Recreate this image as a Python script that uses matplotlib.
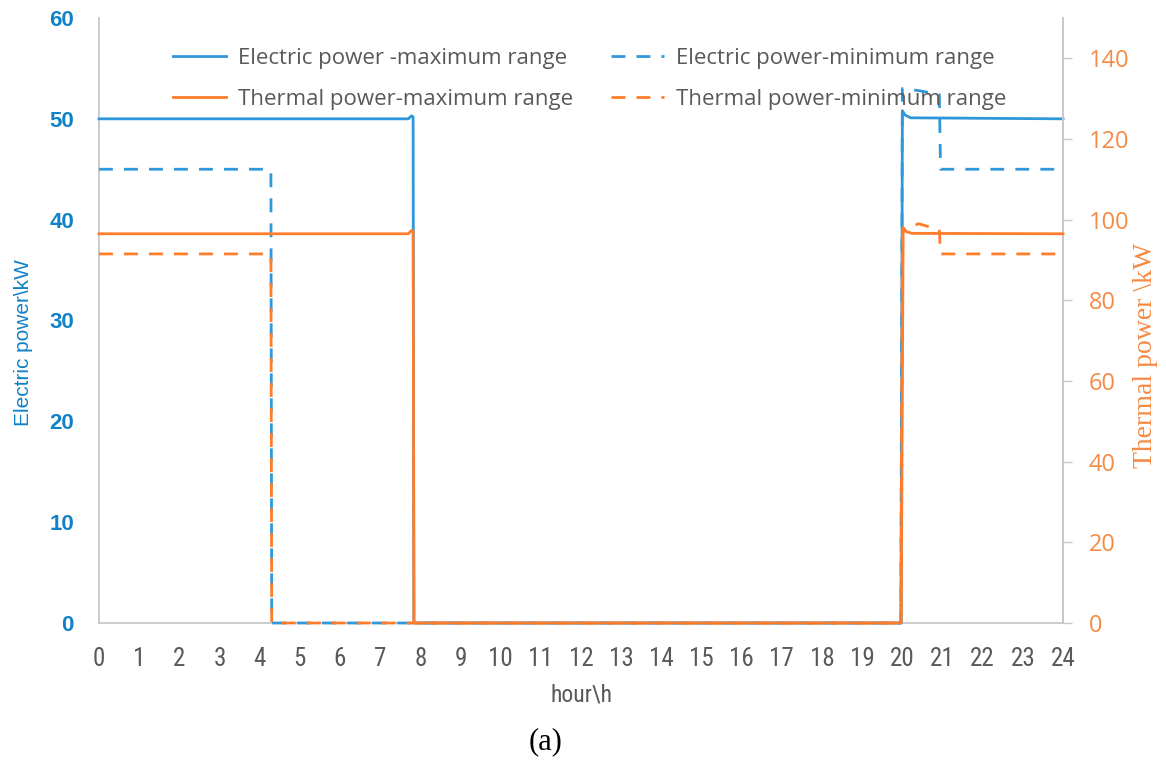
import matplotlib
matplotlib.use("Agg")
import matplotlib.pyplot as plt
from matplotlib import font_manager

# ---- data (hour, value) breakpoints ----
elec_max_t = [0, 7.70, 7.78, 7.82, 7.84, 19.97, 20.00, 20.06, 20.20, 24]
elec_max_v = [50, 50, 50.3, 50.2, 0, 0, 50.8, 50.4, 50.1, 50]

elec_min_t = [0, 4.24, 4.28, 4.30, 19.96, 20.00, 20.40, 20.92, 20.95, 24]
elec_min_v = [45, 45, 44.8, 0, 0, 53.0, 52.8, 52.4, 45, 45]

therm_max_t = [0, 7.70, 7.78, 7.82, 7.84, 19.97, 20.02, 20.10, 20.25, 24]
therm_max_v = [96.5, 96.5, 97.3, 97.2, 0, 0, 98.0, 97.0, 96.6, 96.5]

therm_min_t = [0, 4.24, 4.28, 4.30, 19.96, 20.00, 20.40, 20.92, 20.95, 24]
therm_min_v = [91.5, 91.5, 91.0, 0, 0, 97.0, 99.0, 97.5, 91.5, 91.5]

hour_ticks = list(range(0, 25))
left_ticks = [0, 10, 20, 30, 40, 50, 60]
right_ticks = [0, 20, 40, 60, 80, 100, 120, 140]

labels = ["Electric power -maximum range", "Electric power-minimum range",
          "Thermal power-maximum range", "Thermal power-minimum range"]

BLUE = "#2F97DA"
ORANGE = "#FF7C2A"
BLUE_TXT = "#0F82C8"
ORANGE_TXT = "#F58A45"
GREY = "#595959"
SPINE = "#C8C8C8"

avail = {f.name for f in font_manager.fontManager.ttflist}
narrow = ["Liberation Sans Narrow", "DejaVu Sans"] if "Liberation Sans Narrow" in avail else ["Roboto Condensed", "Liberation Sans", "DejaVu Sans"]
legend_font = ["Open Sans", "DejaVu Sans"]
sans = ["Liberation Sans", "DejaVu Sans"]
serif = ["Liberation Serif", "DejaVu Serif"]

fig = plt.figure(figsize=(11.66, 7.72), dpi=100)
ax = fig.add_axes([0.0849, 0.193, 0.8268, 0.7837])
ax2 = ax.twinx()

lw = 2.0
h1, = ax.plot(elec_max_t, elec_max_v, color=BLUE, lw=lw, clip_on=False, zorder=3)
h2, = ax.plot(elec_min_t, elec_min_v, color=BLUE, lw=lw, dashes=(5, 4), clip_on=False, zorder=3)
h3, = ax2.plot(therm_max_t, therm_max_v, color=ORANGE, lw=lw, clip_on=False, zorder=3)
h4, = ax2.plot(therm_min_t, therm_min_v, color=ORANGE, lw=lw, dashes=(5, 4), clip_on=False, zorder=3)

ax.set_xlim(0, 24)
ax.set_ylim(0, 60)
ax2.set_ylim(0, 150)

ax.set_xticks(hour_ticks)
ax.set_xticklabels([str(h) for h in hour_ticks], fontsize=18, color=GREY, family=narrow)
ax.set_yticks(left_ticks)
ax.set_yticklabels([str(v) for v in left_ticks], fontsize=16, color=BLUE_TXT,
                   family=sans, fontweight="bold")
ax2.set_yticks(right_ticks)
ax2.set_yticklabels([str(v) for v in right_ticks], fontsize=17, color=ORANGE_TXT, family=legend_font)

ax.tick_params(axis="x", length=0, pad=17)
ax.tick_params(axis="y", length=0, pad=18)
ax2.tick_params(axis="y", length=6.5, width=1, color=SPINE, pad=12, direction="out")

for a in (ax, ax2):
    for s in a.spines.values():
        s.set_color(SPINE)
        s.set_linewidth(1.3)
    a.spines["top"].set_visible(False)
ax2.spines["bottom"].set_visible(False)
ax2.spines["left"].set_visible(False)
ax.spines["bottom"].set_zorder(1)

ax.set_xlabel("hour\\h", fontsize=17, color=GREY, family=narrow, labelpad=9)
ax.set_ylabel("Electric power\\kW", fontsize=15, color=BLUE_TXT, family=sans)
ax.yaxis.set_label_coords(-0.068, 0.463)
ax2.set_ylabel("Thermal power \\kW", fontsize=20, color=ORANGE_TXT, family=serif)
ax2.yaxis.set_label_coords(1.073, 0.443)

leg = ax2.legend([h1, h3, h2, h4], [labels[0], labels[2], labels[1], labels[3]],
                 ncol=2, loc="upper center", bbox_to_anchor=(0.509, 0.984),
                 frameon=False, handlelength=2.4,
                 columnspacing=1.7, labelspacing=0.92, handletextpad=0.54,
                 prop={"family": legend_font, "size": 16})
for t in leg.get_texts():
    t.set_color(GREY)

fig.text(0.468, 0.039, "(a)", fontsize=22, family=serif,
         color="black", ha="center", va="center")

fig.savefig("out.png", dpi=100, facecolor="white")
